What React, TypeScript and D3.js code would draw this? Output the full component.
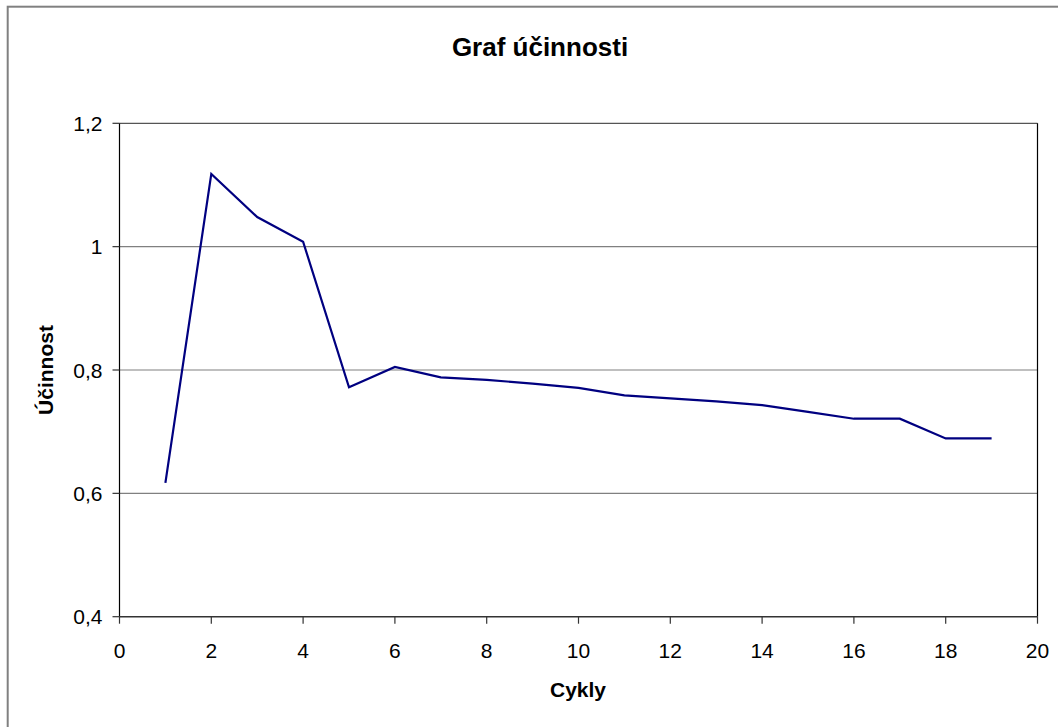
import React from "react";
import * as d3 from "d3";

const cycles = [1, 2, 3, 4, 5, 6, 7, 8, 9, 10, 11, 12, 13, 14, 15, 16, 17, 18, 19];
const efficiency = [0.617, 1.118, 1.048, 1.008, 0.772, 0.805, 0.788, 0.784, 0.778, 0.771, 0.759, 0.754, 0.749, 0.743, 0.732, 0.721, 0.721, 0.689, 0.689];
const xTicks = [0, 2, 4, 6, 8, 10, 12, 14, 16, 18, 20];
const yTicks = [0.4, 0.6, 0.8, 1.0, 1.2];

const W = 1058;
const H = 727;
const margin = { left: 119.5, right: 1037.5, top: 123.3, bottom: 616.7 };
const font = "'Liberation Sans', Arial, Helvetica, sans-serif";

const fmt = (v: number) => {
  const r = Math.round(v * 10) / 10;
  return Number.isInteger(r) ? String(r) : String(r).replace(".", ",");
};

export default function App() {
  const x = d3.scaleLinear().domain([0, 20]).range([margin.left, margin.right]);
  const y = d3.scaleLinear().domain([0.4, 1.2]).range([margin.bottom, margin.top]);
  const line = d3
    .line<number>()
    .x((_, i) => x(cycles[i]))
    .y((d) => y(d));
  const path = line(efficiency) || "";

  return (
    <svg
      width={W}
      height={H}
      style={{ position: "absolute", left: 0, top: 0, background: "#fff" }}
      fontFamily={font}
    >
      <rect x={0} y={0} width={W} height={H} fill="#fff" />
      <rect x={7.7} y={6.7} width={W + 20} height={H + 20} fill="none" stroke="#808080" strokeWidth={2} />

      <text x={540} y={56} textAnchor="middle" fontSize={26} fontWeight="bold" fill="#000">
        Graf účinnosti
      </text>

      {yTicks.slice(1, -1).map((t) => (
        <line key={"g" + t} x1={margin.left} x2={margin.right} y1={y(t)} y2={y(t)} stroke="#808080" strokeWidth={1.2} />
      ))}
      <line x1={margin.left} x2={margin.right} y1={y(1.2)} y2={y(1.2)} stroke="#555" strokeWidth={1.2} />
      <line x1={margin.right} x2={margin.right} y1={margin.top} y2={margin.bottom} stroke="#000" strokeWidth={1.2} />

      <line x1={margin.left} x2={margin.left} y1={margin.top} y2={margin.bottom} stroke="#000" strokeWidth={1.2} />
      <line x1={margin.left} x2={margin.right} y1={margin.bottom} y2={margin.bottom} stroke="#333" strokeWidth={1.5} />

      {yTicks.map((t) => (
        <g key={"y" + t}>
          <line x1={margin.left - 7} x2={margin.left} y1={y(t)} y2={y(t)} stroke="#333" strokeWidth={1.2} />
          <text x={margin.left - 17} y={y(t)} dy="0.36em" textAnchor="end" fontSize={21} fill="#000">
            {fmt(t)}
          </text>
        </g>
      ))}
      {xTicks.map((t) => (
        <g key={"x" + t}>
          <line x1={x(t)} x2={x(t)} y1={margin.bottom} y2={margin.bottom + 7} stroke="#333" strokeWidth={1.2} />
          <text x={x(t)} y={658} textAnchor="middle" fontSize={21} fill="#000">
            {fmt(t)}
          </text>
        </g>
      ))}

      <path d={path} fill="none" stroke="#000080" strokeWidth={2.2} strokeLinejoin="miter" />

      <text x={578} y={697} textAnchor="middle" fontSize={21} fontWeight="bold" fill="#000">
        Cykly
      </text>
      <text
        transform={`translate(53, ${(margin.top + margin.bottom) / 2}) rotate(-90)`}
        textAnchor="middle"
        fontSize={21}
        fontWeight="bold"
        fill="#000"
      >
        Účinnost
      </text>
    </svg>
  );
}
